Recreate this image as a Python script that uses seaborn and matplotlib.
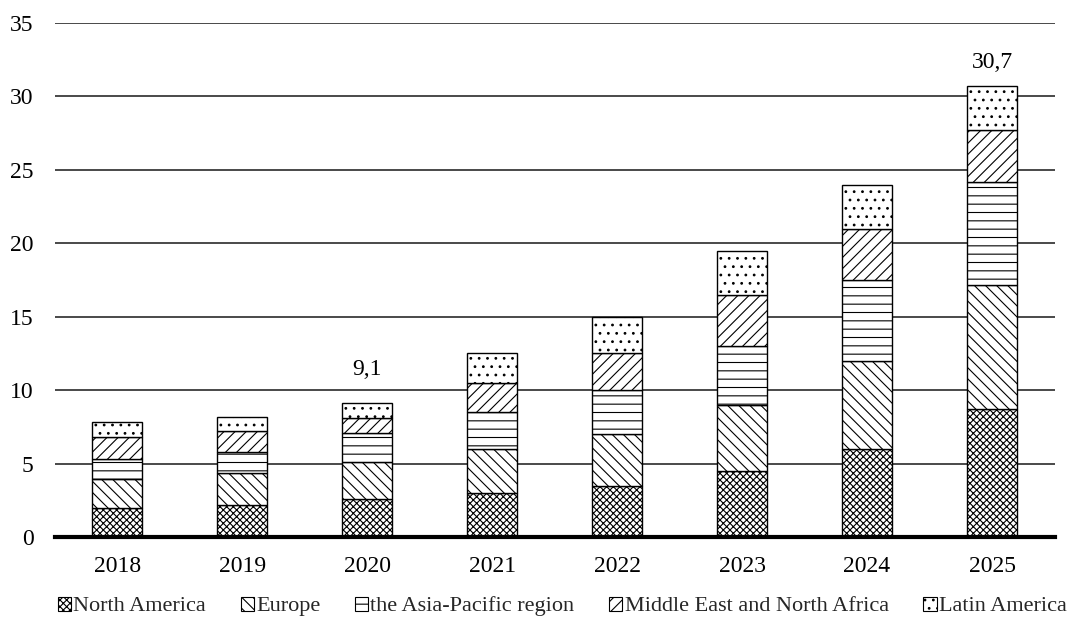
import numpy as np
import pandas as pd
import matplotlib
matplotlib.use("Agg")
import matplotlib.pyplot as plt
import seaborn as sns
from matplotlib.patches import Patch

# Data
years = ["2018", "2019", "2020", "2021", "2022", "2023", "2024", "2025"]
north_america = [2.0, 2.2, 2.6, 3.0, 3.5, 4.5, 6.0, 8.7]
europe = [1.95, 2.15, 2.5, 3.0, 3.5, 4.5, 6.0, 8.45]
asia_pacific = [1.35, 1.45, 2.0, 2.5, 3.0, 4.0, 5.5, 7.0]
mena = [1.5, 1.4, 1.0, 2.0, 2.5, 3.5, 3.5, 3.55]
latin_america = [1.0, 1.0, 1.0, 2.0, 2.5, 3.0, 3.0, 3.0]

series_names = ["North America", "Europe", "the Asia-Pacific region",
                "Middle East and North Africa", "Latin America"]
series_values = [north_america, europe, asia_pacific, mena, latin_america]
hatches = ["xxxxx", "\\\\\\", "--", "///", ".."]

# total labels shown only on a couple of bars
label_years = ["2020", "2025"]
label_texts = ["9,1", "30,7"]
label_offsets = [2.3, 1.6]

sns.set_theme(style="white")
plt.rcParams["font.family"] = ["Liberation Serif", "DejaVu Serif"]
plt.rcParams["hatch.linewidth"] = 0.8

fig = plt.figure(figsize=(10.71, 6.24), dpi=100)
ax = fig.add_axes([0.051, 0.1394, 0.9336, 0.8237])

df = pd.DataFrame({"year": years})
bottom = np.zeros(len(years))
for name, vals, hatch in zip(series_names, series_values, hatches):
    df[name] = vals
    sns.barplot(data=df, x="year", y=name, bottom=bottom, width=0.4,
                color="white", edgecolor="black", linewidth=1.0,
                hatch=hatch, errorbar=None, ax=ax, zorder=3)
    bottom = bottom + np.array(vals)

# gridlines
ax.set_ylim(0, 35)
ax.set_yticks(range(0, 36, 5))
ax.yaxis.grid(True, color="#2a2a2a", linewidth=1.2, zorder=0)
ax.set_axisbelow(True)
for s in ["top", "right", "left"]:
    ax.spines[s].set_visible(False)
ax.spines["bottom"].set_color("black")
ax.spines["bottom"].set_linewidth(3)
ax.spines["bottom"].set_zorder(5)
ax.set_xlabel("")
ax.set_ylabel("")
ax.tick_params(axis="both", length=0, labelsize=17, colors="black")
ax.tick_params(axis="y", pad=15)
ax.tick_params(axis="x", pad=14)

totals = dict(zip(years, bottom))
for yr, txt, off in zip(label_years, label_texts, label_offsets):
    ax.text(years.index(yr), totals[yr] + off, txt, ha="center", va="center",
            fontsize=17, color="black")

handles = [Patch(facecolor="white", edgecolor="black", hatch=h, linewidth=0.8)
           for h in hatches]
fig.legend(handles, series_names, loc="lower center", ncol=5, frameon=False,
           fontsize=16, handlelength=0.6, handleheight=0.6, handletextpad=0.1,
           columnspacing=1.55, bbox_to_anchor=(0.525, -0.02))

fig.savefig("out.png", dpi=100)
